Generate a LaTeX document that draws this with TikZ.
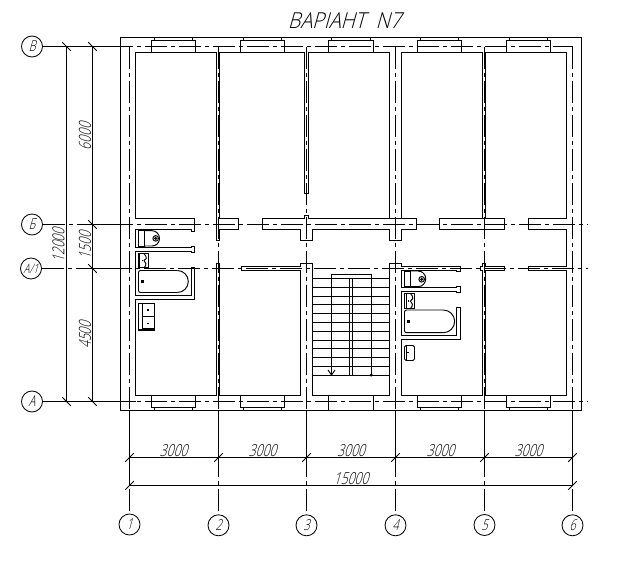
\documentclass[tikz,border=0pt]{standalone}
\usepackage{fontspec}
\newfontfamily\cad[FakeSlant=0.28,FakeStretch=0.74]{Open Sans Light}
\newfontfamily\cadwide[FakeSlant=0.28,FakeStretch=0.9]{Open Sans Light}
\tikzset{
  wall/.style={line width=1pt,line cap=rect,line join=miter},
  axisline/.style={line width=1pt,dash pattern=on 22pt off 4pt on 4pt off 4pt},
  dimline/.style={line width=1pt},
  fixture/.style={line width=0.95pt},
  bubble/.style={circle,draw,line width=0.85pt,minimum size=21pt,inner sep=0pt,font=\cad\fontsize{15}{15}\selectfont},
  dimtext/.style={inner sep=0pt,font=\cad\fontsize{16.5}{16.5}\selectfont},
  dot/.style={fill=black,draw=none}
}
\begin{document}
\begin{tikzpicture}[x=1pt,y=-1pt]
\useasboundingbox (0,0) rectangle (618,565);
\fill[white] (0,0) rectangle (618,565);
% bubbles
\node[bubble] (rV) at (32,46.5) {В};
\node[bubble] (rB) at (32,224.5) {Б};
\node[bubble] (rA1) at (31,268.5) {\fontsize{13}{13}\selectfont А/1};
\node[bubble] (rA) at (32,401.5) {А};
\node[bubble] (c1) at (129.5,524.5) {1};
\node[bubble] (c2) at (218.5,525.3) {2};
\node[bubble] (c3) at (306.5,525.3) {3};
\node[bubble] (c4) at (395.5,525.3) {4};
\node[bubble] (c5) at (484.5,525) {5};
\node[bubble] (c6) at (572.5,525.3) {6};
% free ends
\coordinate (eV) at (572.5,46.5);
\coordinate (eB) at (588,224.5);
\coordinate (eA1) at (588,268.5);
\coordinate (eA) at (588,401.5);
\foreach \n/\x in {1/129.5,2/218.5,3/306.5,4/395.5,5/484.5,6/572.5}
  \coordinate (t\n) at (\x,46.5);
% axes
\draw[axisline] (rV) -- (eV);
\draw[axisline] (rB) -- (eB);
\draw[axisline] (rA1) -- (eA1);
\draw[axisline] (rA) -- (eA);
\foreach \n in {1,...,6} \draw[axisline] (t\n) -- (c\n);
% extension lines
\draw[dimline] (62.2,46.5) -- (120.5,46.5) (92.5,224.5) -- (120.5,224.5) (92.5,268.5) -- (120.5,268.5) (62.2,401.5) -- (135.5,401.5);
\draw[dimline] (129.5,410.5) -- (129.5,485.5) (218.5,410.5) -- (218.5,457.5) (306.5,410.5) -- (306.5,457.5)
 (395.5,410.5) -- (395.5,457.5) (484.5,410.5) -- (484.5,457.5) (572.5,410.5) -- (572.5,485.5);
% dimension lines
\draw[dimline] (66.5,46.5) -- (66.5,401.5) (92.5,46.5) -- (92.5,401.5);
\draw[dimline] (129.5,457.5) -- (572.5,457.5) (129.5,485.5) -- (572.5,485.5);
\foreach \p in {(66.5,46.5),(92.5,46.5),(92.5,224.5),(92.5,268.5),(92.5,401.5),(66.5,401.5)}
  \draw[dimline,line width=0.8pt] \p ++(-4.3,-4.3) -- ++(8.6,8.6);
\foreach \p in {(129.5,457.5),(218.5,457.5),(306.5,457.5),(395.5,457.5),(484.5,457.5),(572.5,457.5),(129.5,485.5),(572.5,485.5)}
  \draw[dimline,line width=0.8pt] \p ++(-4.3,4.3) -- ++(8.6,-8.6);
% dimension text
\node[dimtext,rotate=90] (d12) at (58.5,245.5) {12000};
\node[dimtext,rotate=90] (d6) at (85,136.5) {6000};
\node[dimtext,rotate=90] (d15) at (85,245.5) {1500};
\node[dimtext,rotate=90] (d45) at (85,335) {4500};
\foreach \x in {173.5,262.5,351,440.5,528.5}
  \node[dimtext] at (\x,451) {3000};
\node[dimtext] (d15k) at (351,478.5) {15000};
\node[inner sep=0pt,font=\cadwide\fontsize{22}{22}\selectfont] (title) at (344.5,21) {ВАРІАНТ\ \ N7};
% outer wall
\draw[wall] (120.5,37.5) rectangle (581.5,410.5);
% windows
\foreach \a/\b in {151.5/195.5,240.5/284.5,328.5/373.5,417.5/461.5,506.5/550.5}{
  \draw[wall] (\a,52.5) -- (\a,40.5) -- (\b,40.5) -- (\b,52.5);
  \draw[wall] (\a+3,40.5) -- (\a+3,37.5) (\b-3,40.5) -- (\b-3,37.5);
}
\foreach \a/\b in {151.5/195.5,240.5/284.5,417.5/461.5,506.5/550.5}{
  \draw[wall] (\a,395.5) -- (\a,407.5) -- (\b,407.5) -- (\b,395.5);
  \draw[wall] (\a+3,407.5) -- (\a+3,410.5) (\b-3,407.5) -- (\b-3,410.5);
}
\draw[wall] (328.5,395.5) -- (328.5,410.5) (373.5,395.5) -- (373.5,410.5);
% upper rooms and corridor wall
\draw[wall] (194.5,218.5) -- (135.5,218.5) -- (135.5,52.5) -- (216.5,52.5) -- (216.5,240.5) -- (219.5,240.5) -- (219.5,229.5) -- (238.5,229.5) -- (238.5,218.5) -- (219.5,218.5) -- (219.5,52.5) -- (304.5,52.5) -- (304.5,193.5) -- (308.5,193.5) -- (308.5,52.5) -- (389.5,52.5) -- (389.5,218.5) -- (416.5,218.5) -- (416.5,229.5) -- (401.5,229.5) -- (401.5,240.5) -- (389.5,240.5) -- (389.5,229.5) -- (312.5,229.5) -- (312.5,240.5) -- (300.5,240.5) -- (300.5,229.5) -- (262.5,229.5) -- (262.5,218.5) -- (304.5,218.5) -- (304.5,215.5) -- (308.5,215.5) -- (308.5,218.5) -- (389.5,218.5);
\draw[wall] (401.5,218.5) -- (401.5,52.5) -- (482.5,52.5) -- (482.5,218.5);
\draw[wall] (439.5,218.5) -- (504.5,218.5) -- (504.5,229.5) -- (439.5,229.5) -- cycle;
\draw[wall] (485.5,218.5) -- (485.5,52.5) -- (566.5,52.5) -- (566.5,218.5) -- (528.5,218.5) -- (528.5,229.5) -- (566.5,229.5) -- (566.5,266.5) -- (528.5,266.5) -- (528.5,270.5) -- (566.5,270.5) -- (566.5,395.5) -- (485.5,395.5) -- (485.5,270.5) -- (504.5,270.5) -- (504.5,266.5) -- (485.5,266.5) -- (485.5,263.5) -- (482.5,263.5) -- (482.5,266.5) -- (480.5,266.5) -- (480.5,270.5) -- (482.5,270.5) -- (482.5,395.5) -- (401.5,395.5) -- (401.5,339.5) -- (460.5,339.5) -- (460.5,307.5) -- (456.5,307.5) -- (456.5,335.5) -- (401.5,335.5) -- (401.5,291.5) -- (456.5,291.5) -- (456.5,292.5) -- (460.5,292.5) -- (460.5,286.5) -- (456.5,286.5) -- (456.5,287.5) -- (401.5,287.5) -- (401.5,270.5) -- (456.5,270.5) -- (456.5,271.5) -- (460.5,271.5) -- (460.5,266.5) -- (401.5,266.5) -- (401.5,263.5) -- (389.5,263.5) -- (389.5,395.5) -- (312.5,395.5) -- (312.5,263.5) -- (300.5,263.5) -- (300.5,266.5) -- (241.5,266.5) -- (241.5,270.5) -- (300.5,270.5) -- (300.5,395.5) -- (219.5,395.5) -- (219.5,263.5) -- (216.5,263.5) -- (216.5,395.5) -- (135.5,395.5) -- (135.5,299.5) -- (194.5,299.5) -- (194.5,267.5) -- (191.5,267.5) -- (191.5,295.5) -- (135.5,295.5) -- (135.5,251.5) -- (191.5,251.5) -- (191.5,252.5) -- (194.5,252.5) -- (194.5,246.5) -- (191.5,246.5) -- (191.5,247.5) -- (135.5,247.5) -- (135.5,229.5) -- (191.5,229.5) -- (191.5,231.5) -- (194.5,231.5) -- (194.5,218.5);
% stairs
\draw[fixture] (331.5,375) -- (331.5,274.5) -- (371.5,274.5) -- (371.5,375);
\draw[fixture] (349.5,375) -- (349.5,278.5) -- (352.5,278.5) -- (352.5,375);
\foreach \i in {0,...,11}
  \draw[fixture] (312.5,278.5+8.79*\i) -- (389.5,278.5+8.79*\i);
\draw[fixture] (328,370) -- (331.5,375) -- (335,370);
\fill[dot] (371.2,375) circle (1.7);
% left fixtures
\draw[fixture] (138.5,230.7) rectangle (144.5,246);
\draw[fixture] (144.5,230.7) -- (152,230.7) .. controls (156,230.7) and (159.5,234) .. (159.5,238.4) .. controls (159.5,243) and (156,246) .. (152,246) -- (144.5,246);
\draw[fixture] (155.7,238.4) circle (2.8) (155.7,238.4) circle (1);
\draw[fixture] (138.5,253.5) rectangle (148,267.7);
\draw[fixture] (139.8,253.5) -- (139.8,267.7);
\draw[fixture] (144,253.5) .. controls (148,258) and (146,260) .. (144,260.5) .. controls (146,262) and (147,265) .. (144,267.7);
\fill[dot] (141.5,259.5) rectangle (143,261);
\draw[fixture,rounded corners=2pt] (177.3,270.5) -- (138.5,270.5) -- (138.5,292.5) -- (177.3,292.5);
\draw[fixture] (177.3,270.5) arc[start angle=-90,end angle=90,radius=11];
\fill[dot] (140.8,279.5) rectangle (143.8,282.5);
\draw[fixture,line width=1.1pt] (138.5,303.5) rectangle (154.5,330);
\draw[fixture] (142,303.5) -- (142,330) (142,316.8) -- (154.5,316.8) (142,328.5) -- (154.5,328.5);
\fill[dot] (147.3,309.3) rectangle (149,311);
\fill[dot] (147.3,322.5) rectangle (149,324.2);
% right fixtures
\draw[fixture] (404.5,271) rectangle (410,286.7);
\draw[fixture] (410,271) -- (418,271) .. controls (422.5,271) and (425.7,274.5) .. (425.7,278.8) .. controls (425.7,283) and (422.5,286.7) .. (418,286.7) -- (410,286.7);
\draw[fixture] (421.7,279.3) circle (2.8) (421.7,279.3) circle (1);
\draw[fixture] (404.5,293.5) rectangle (414.5,308.5);
\draw[fixture] (406.2,293.5) -- (406.2,308.5);
\draw[fixture] (410.5,293.5) .. controls (414.5,298) and (412.5,300) .. (410.5,301) .. controls (412.5,302.5) and (413.5,305.5) .. (410.5,308.5);
\fill[dot] (407.5,300) rectangle (409,301.5);
\draw[fixture,rounded corners=2pt] (443.3,310) -- (404.5,310) -- (404.5,332.7) -- (443.3,332.7);
\draw[fixture] (443.3,310) arc[start angle=-90,end angle=90,radius=11.35];
\fill[dot] (406.8,319.8) rectangle (409.8,322.8);
\draw[fixture,rounded corners=1.5pt] (404.5,345.5) -- (414.5,345.5) -- (414.5,360.5) -- (404.5,360.5) -- cycle;
\draw[fixture] (406.2,345.5) -- (406.2,360.5) (406.2,352) -- (408.8,352);
\end{tikzpicture}
\end{document}
